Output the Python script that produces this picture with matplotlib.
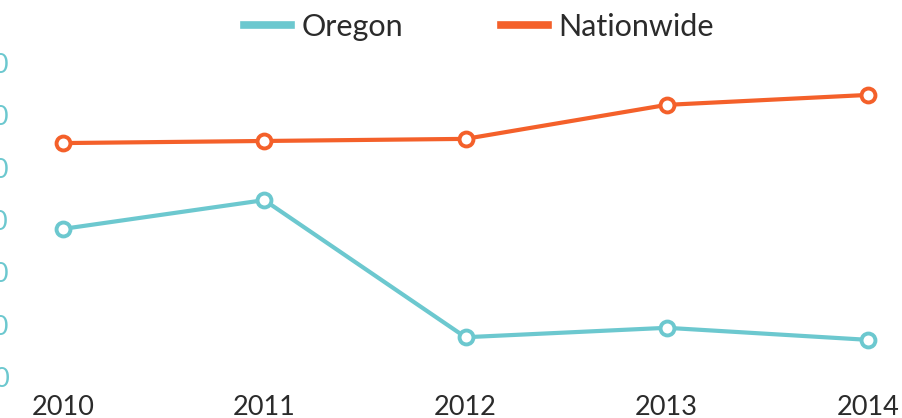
import matplotlib
matplotlib.use("Agg")
import matplotlib.pyplot as plt
from matplotlib.lines import Line2D

years = [2010, 2011, 2012, 2013, 2014]
oregon = [28.3, 33.8, 7.6, 9.4, 7.1]
nationwide = [44.7, 45.1, 45.5, 52.0, 53.9]
y_ticks = [0, 10, 20, 30, 40, 50, 60]
x_labels = ["2010", "2011", "2012", "2013", "2014"]

teal = "#6cc8cf"
orange = "#f4602a"
text_col = "#2b2b2b"

plt.rcParams['font.family'] = ['Lato', 'DejaVu Sans']

fig = plt.figure(figsize=(9.03, 4.18), dpi=100)
W, H = 903, 418
ax_l, ax_r, ax_t, ax_b = 20, 890, 55, 385
ax = fig.add_axes([ax_l / W, (H - ax_b) / H, (ax_r - ax_l) / W, (ax_b - ax_t) / H])

px_per_year = (868 - 63) / 4
ax.set_xlim(2010 - (63 - ax_l) / px_per_year, 2014 + (ax_r - 868) / px_per_year)
px_per_unit = (377 - 63) / 60
ax.set_ylim(-(ax_b - 377) / px_per_unit, (377 - ax_t) / px_per_unit)

for vals, col in [(oregon, teal), (nationwide, orange)]:
    ax.plot(years, vals, color=col, lw=3.0, marker='o', ms=10, mfc='white',
            mec=col, mew=2.8, clip_on=False, zorder=3)

ax.set_xticks(years)
ax.set_xticklabels(x_labels)
ax.set_yticks(y_ticks)
ax.set_yticklabels([str(v) for v in y_ticks])
ax.tick_params(axis='x', length=0, pad=7, labelsize=19.5, labelcolor=text_col)
ax.tick_params(axis='y', length=0, pad=8, labelsize=19.5, labelcolor=teal)
for s in ax.spines.values():
    s.set_visible(False)

handles = [Line2D([], [], color=teal, lw=5.5), Line2D([], [], color=orange, lw=5.5)]
fig.legend(handles, ["Oregon", "Nationwide"], loc='center', ncol=2,
           bbox_to_anchor=(479 / W, 1 - 27 / H), frameon=False, fontsize=22,
           handlelength=1.55, handletextpad=0.33, columnspacing=3.2,
           labelcolor=text_col)

fig.savefig("out.png", dpi=100, facecolor='white')
